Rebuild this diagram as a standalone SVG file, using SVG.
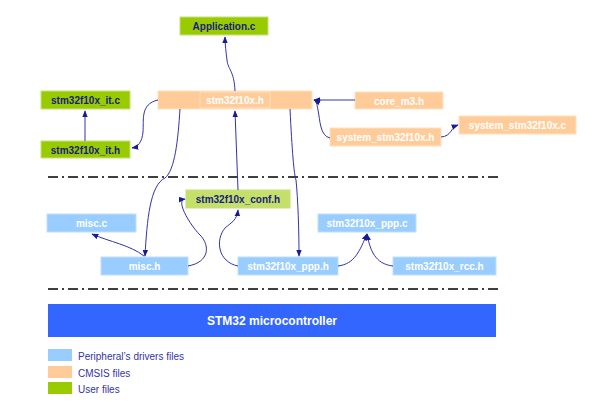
<svg xmlns="http://www.w3.org/2000/svg" width="600" height="410" viewBox="0 0 600 410">
<style>
text{font-family:"Liberation Sans",Arial,sans-serif;font-size:10px;font-weight:bold;text-anchor:middle}
.u rect{fill:#99CC00;stroke:#C6E07A;stroke-width:1}
.u text{fill:#1A1A80}
.c rect{fill:#FFCC99;stroke:#FFE0C0}
.c text{fill:#fff}
.p rect{fill:#99CCFF;stroke:#C0E0FF}
.p text{fill:#fff}
.dash{stroke:#000;stroke-width:1.5;stroke-dasharray:10,4,2,4;fill:none}
#conn path{fill:none;stroke:#3333AA;stroke-width:1;marker-end:url(#a)}
.leg{font-weight:normal;text-anchor:start;fill:#3333AA;font-size:10px}
</style>
<defs><marker id="a" viewBox="0 0 10 10" refX="9" refY="5" markerWidth="7" markerHeight="7" orient="auto"><path d="M0,1L10,5L0,9z" fill="#1A1A99"/></marker></defs>
<rect width="600" height="410" fill="#fff"/>
<g id="app" class="u"><rect x="180" y="17" width="88" height="18"/><text x="224" y="30">Application.c</text></g>
<g id="itc" class="u"><rect x="41" y="91" width="89" height="18"/><text x="85.5" y="104">stm32f10x_it.c</text></g>
<g id="ith" class="u"><rect x="41" y="141" width="89" height="17"/><text x="85.5" y="154">stm32f10x_it.h</text></g>
<g id="main" class="c"><rect x="158" y="91" width="154" height="18"/><rect x="200" y="92" width="70" height="16" fill="#FFD8B0" stroke="none"/><text x="235" y="104">stm32f10x.h</text></g>
<g id="core" class="c"><rect x="355" y="92" width="88" height="17"/><text x="399" y="105">core_m3.h</text></g>
<g id="sysh" class="c"><rect x="330" y="128" width="111" height="18"/><text x="385.5" y="141">system_stm32f10x.h</text></g>
<g id="sysc" class="c"><rect x="459" y="116" width="117" height="18"/><text x="517.5" y="129">system_stm32f10x.c</text></g>
<line class="dash" x1="48" y1="177" x2="500" y2="177"/>
<line class="dash" x1="48" y1="289" x2="500" y2="289"/>
<g id="conf" class="u"><rect x="186" y="190" width="104" height="18" style="fill:#C4E06A"/><text x="238" y="203">stm32f10x_conf.h</text></g>
<g id="miscc" class="p"><rect x="47" y="214" width="89" height="18"/><text x="91.5" y="227">misc.c</text></g>
<g id="misch" class="p"><rect x="101" y="257" width="87" height="18"/><text x="144.5" y="270">misc.h</text></g>
<g id="ppph" class="p"><rect x="238" y="257" width="100" height="18"/><text x="288" y="270">stm32f10x_ppp.h</text></g>
<g id="pppc" class="p"><rect x="318" y="214" width="98" height="18"/><text x="367" y="227">stm32f10x_ppp.c</text></g>
<g id="rcc" class="p"><rect x="393" y="257" width="103" height="18"/><text x="444.5" y="270">stm32f10x_rcc.h</text></g>
<g id="mcu"><rect x="48" y="304" width="448" height="33" fill="#3366FF"/><text x="272" y="325" fill="#fff" style="font-size:12px">STM32 microcontroller</text></g>
<g id="legend">
<rect x="48" y="349" width="24" height="12" fill="#99CCFF"/><text class="leg" x="78" y="360">Peripheral’s drivers files</text>
<rect x="48" y="366" width="24" height="12" fill="#FFCC99"/><text class="leg" x="78" y="377">CMSIS files</text>
<rect x="48" y="382" width="24" height="12" fill="#99CC00"/><text class="leg" x="78" y="393">User files</text>
</g>
<g id="conn">
<path d="M235,91 C234,70 228,70 227,60 C226,52 225,45 225,37"/>
<path d="M85,141 L85,111"/>
<path d="M158,100 C140,104 144,120 143,132 C142,142 138,147 132,148"/>
<path d="M180,109 C178,140 175,170 165,178 C150,185 147,220 145,256"/>
<path d="M238,190 L235,111"/>
<path d="M290,109 C292,150 294,175 296,180 C298,200 299,230 299,256"/>
<path d="M355,100 L314,100"/>
<path d="M330,138 C320,136 320,120 318,110 C317,104 316,101 314,100"/>
<path d="M441,137 C452,136 450,128 458,125"/>
<path d="M144,256 C130,245 110,242 92,234"/>
<path d="M188,266 C210,262 210,245 200,235 C190,225 175,200 185,199"/>
<path d="M238,266 C218,262 215,240 225,228 C232,222 237,220 238,210"/>
<path d="M338,266 C355,264 360,250 367,234"/>
<path d="M393,266 C375,264 370,250 367,234"/>
</g>
</svg>
